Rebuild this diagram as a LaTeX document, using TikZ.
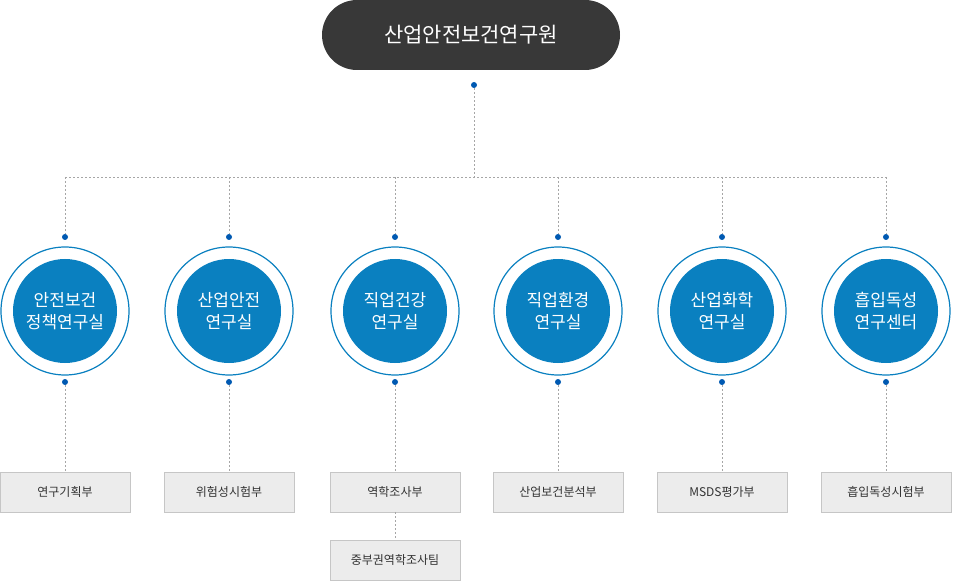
\documentclass[tikz,border=0pt]{standalone}
\usepackage{fontspec}
\newfontfamily\cjk{Noto Sans CJK KR}
\begin{document}
\begin{tikzpicture}[x=1pt,y=-1pt,
  dl/.style={draw=gray!70,dashed,dash pattern=on 2pt off 2pt,line width=0.6pt},
  dot/.style={circle,fill=blue!50!cyan!70!black,inner sep=0,minimum size=6pt},
  org/.style={circle,fill=cblue,text=white,minimum size=104pt,inner sep=0,align=center,font=\cjk\fontsize{17}{22}\selectfont},
  ring/.style={circle,draw=cblue,line width=1.2pt,fill=white,minimum size=128pt,inner sep=0},
  sub/.style={draw=gray!45,fill=gray!15,minimum width=130pt,minimum height=40pt,inner sep=0,font=\cjk\fontsize{12}{14}\selectfont,text=black!80}]
\definecolor{cblue}{HTML}{0A80C0}
\useasboundingbox (0,0) rectangle (955,585);
\node[fill=black!78,rounded corners=35pt,minimum width=298pt,minimum height=70pt,text=white,font=\cjk\fontsize{21}{24}\selectfont] (top) at (471,35) {산업안전보건연구원};
\node[dot] (td) at (474,85) {};
\coordinate (hub) at (474,177);
\draw[dl] (td) -- (hub);
\draw[dl] (65,177) -- (886,177);
\foreach \x/\t/\s/\n in {65/{안전보건\\정책연구실}/연구기획부/a,229/{산업안전\\연구실}/위험성시험부/b,395/{직업건강\\연구실}/역학조사부/c,558/{직업환경\\연구실}/산업보건분석부/d,722/{산업화학\\연구실}/MSDS평가부/e,886/{흡입독성\\연구센터}/흡입독성시험부/f}{
  \coordinate (h\n) at (\x,177);
  \node[dot] (u\n) at (\x,237) {};
  \draw[dl] (h\n) -- (u\n);
  \node[ring] (r\n) at (\x,311) {};
  \node[org] (c\n) at (\x,311) {\t};
  \node[dot] (l\n) at (\x,382) {};
  \node[sub] (s\n) at (\x,492) {\s};
  \draw[dl] (l\n) -- (s\n);
}
\node[sub] (s2) at (395,560) {중부권역학조사팀};
\draw[dl] (sc) -- (s2);
\end{tikzpicture}
\end{document}
